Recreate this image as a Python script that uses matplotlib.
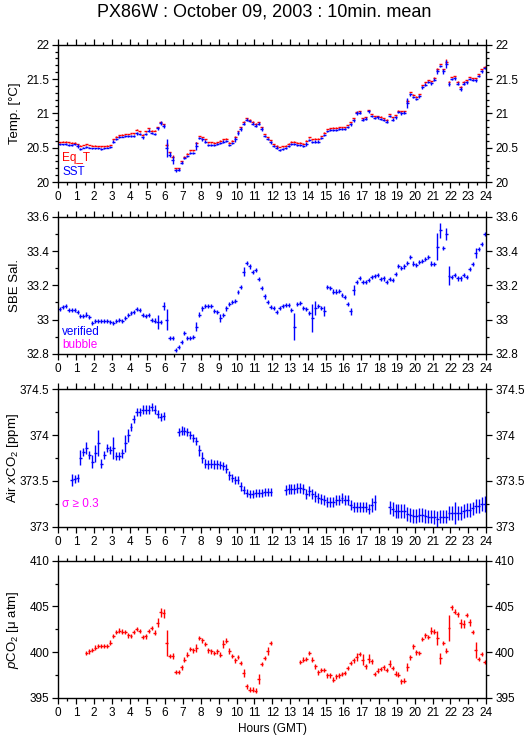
import numpy as np
import matplotlib
matplotlib.use('Agg')
import matplotlib.pyplot as plt
from matplotlib.ticker import MultipleLocator, FormatStrFormatter

plt.rcParams['font.family'] = ['Liberation Sans', 'DejaVu Sans']
plt.rcParams['mathtext.fontset'] = 'custom'
plt.rcParams['mathtext.rm'] = 'Liberation Sans'
plt.rcParams['mathtext.it'] = 'Liberation Sans:italic'
plt.rcParams['mathtext.default'] = 'regular'

nan = np.nan

# 10 minute bins, 144 per day (value per bin, nan = no data)
sst = [
    20.55, 20.55, 20.56, 20.54, 20.54, 20.55, 20.52, 20.48, 20.50, 20.51,
    20.50, 20.49, 20.49, 20.49, 20.48, 20.49, 20.50, 20.51, 20.59, 20.62,
    20.65, 20.66, 20.67, 20.67, 20.67, 20.67, 20.71, 20.70, 20.65, 20.70,
    20.75, 20.71, 20.70, 20.78, 20.86, 20.81, 20.49, 20.40, 20.32, 20.17,
    20.18, 20.28, 20.35, 20.38, 20.42, 20.42, 20.52, 20.64, 20.62, 20.59,
    20.54, 20.54, 20.54, 20.55, 20.57, 20.59, 20.60, 20.54, 20.57, 20.62,
    20.71, 20.77, 20.85, 20.91, 20.89, 20.85, 20.82, 20.85, 20.77, 20.67,
    20.62, 20.58, 20.52, 20.50, 20.47, 20.48, 20.49, 20.53, 20.56, 20.56,
    20.54, 20.54, 20.52, 20.56, 20.61, 20.58, 20.59, 20.59, 20.64, 20.69,
    20.74, 20.76, 20.76, 20.76, 20.77, 20.77, 20.77, 20.80, 20.84, 20.90,
    21.00, 21.01, 20.91, 20.92, 21.03, 20.96, 20.93, 20.94, 20.92, 20.91,
    20.88, 20.96, 20.91, 20.94, 21.02, 21.00, 21.01, 21.15, 21.28, 21.24,
    21.21, 21.25, 21.38, 21.42, 21.45, 21.44, 21.49, 21.61, 21.69, 21.61,
    21.72, 21.43, 21.50, 21.51, 21.43, 21.35, 21.43, 21.45, 21.50, 21.48,
    21.48, 21.54, 21.61, 21.66]

eqt = [
    20.58, 20.59, 20.59, 20.58, 20.57, 20.57, 20.55, 20.53, 20.54, 20.55,
    20.54, 20.53, 20.53, 20.52, 20.52, 20.52, 20.53, 20.54, 20.62, 20.66,
    20.68, 20.69, 20.70, 20.70, 20.71, 20.71, 20.76, 20.74, 20.69, 20.74,
    20.78, 20.75, 20.75, 20.80, 20.87, 20.84, 20.54, 20.43, 20.37, 20.20,
    20.20, 20.30, 20.37, 20.41, 20.46, 20.46, 20.57, 20.67, 20.65, 20.62,
    20.58, 20.58, 20.57, 20.58, 20.60, 20.62, 20.63, 20.57, 20.60, 20.66,
    20.74, 20.80, 20.88, 20.93, 20.91, 20.88, 20.85, 20.87, 20.80, 20.70,
    20.65, 20.61, 20.55, 20.53, 20.51, 20.52, 20.53, 20.56, 20.59, 20.59,
    20.57, 20.57, 20.56, 20.60, 20.65, 20.62, 20.63, 20.63, 20.67, 20.72,
    20.77, 20.78, 20.79, 20.79, 20.80, 20.80, 20.80, 20.83, 20.87, 20.93,
    21.02, 21.03, 20.93, 20.94, 21.05, 20.99, 20.96, 20.96, 20.95, 20.93,
    20.91, 20.99, 20.94, 20.97, 21.04, 21.03, 21.03, 21.18, 21.31, 21.27,
    21.24, 21.28, 21.41, 21.45, 21.48, 21.47, 21.52, 21.64, 21.72, 21.64,
    21.75, 21.46, 21.53, 21.54, 21.46, 21.39, 21.46, 21.48, 21.53, 21.51,
    21.51, 21.57, 21.64, 21.68]

sst_sd = [
    0.01, 0.01, 0.015, 0.01, 0.01, 0.01, 0.03, 0.015, 0.01, 0.01,
    0.01, 0.01, 0.01, 0.01, 0.01, 0.01, 0.01, 0.01, 0.015, 0.015,
    0.015, 0.01, 0.01, 0.01, 0.01, 0.01, 0.02, 0.02, 0.02, 0.015,
    0.02, 0.015, 0.02, 0.02, 0.03, 0.03, 0.13, 0.03, 0.06, 0.02,
    0.02, 0.02, 0.02, 0.02, 0.015, 0.015, 0.06, 0.02, 0.02, 0.015,
    0.01, 0.01, 0.01, 0.015, 0.015, 0.015, 0.015, 0.02, 0.015, 0.03,
    0.03, 0.03, 0.02, 0.02, 0.02, 0.02, 0.02, 0.02, 0.03, 0.02,
    0.015, 0.02, 0.015, 0.02, 0.015, 0.015, 0.015, 0.015, 0.015, 0.015,
    0.015, 0.01, 0.015, 0.03, 0.015, 0.015, 0.015, 0.015, 0.015, 0.015,
    0.01, 0.01, 0.01, 0.01, 0.01, 0.015, 0.015, 0.02, 0.02, 0.02,
    0.03, 0.02, 0.02, 0.02, 0.02, 0.02, 0.015, 0.015, 0.015, 0.015,
    0.025, 0.015, 0.02, 0.02, 0.02, 0.02, 0.02, 0.07, 0.02, 0.02,
    0.02, 0.02, 0.02, 0.02, 0.015, 0.02, 0.02, 0.04, 0.02, 0.03,
    0.06, 0.025, 0.02, 0.02, 0.02, 0.03, 0.02, 0.02, 0.015, 0.015,
    0.02, 0.015, 0.02, 0.015]

sal = [
    33.063, 33.072, 33.077, 33.057, 33.055, 33.055, 33.045, 33.020, 33.020, 33.030,
    33.015, 32.980, 32.990, 32.990, 32.990, 32.990, 32.990, 32.985, 32.980, 32.990,
    33.000, 32.990, 33.010, 33.025, 33.040, 33.045, 33.060, 33.055, 33.025, 33.020,
    33.025, 33.000, 32.995, 32.985, 32.985, 33.080, 33.000, 32.895, 32.895, 32.825,
    32.840, 32.870, 32.920, 32.895, 32.895, 32.900, 32.960, 33.030, 33.065, 33.080,
    33.080, 33.080, 33.050, 33.045, 33.010, 33.025, 33.065, 33.090, 33.105, 33.110,
    33.160, 33.190, 33.280, 33.330, 33.310, 33.280, 33.290, 33.235, 33.185, 33.135,
    33.105, 33.075, 33.067, 33.044, 33.070, 33.080, 33.087, 33.087, 33.057, 32.960,
    33.090, 33.096, 33.067, 33.063, 33.040, 33.010, 33.070, 33.080, 33.070, 33.052,
    33.190, 33.185, 33.164, 33.164, 33.165, 33.145, 33.130, 33.090, 33.050, 33.174,
    33.220, 33.245, 33.218, 33.220, 33.230, 33.247, 33.255, 33.260, 33.236, 33.240,
    33.220, 33.235, 33.230, 33.267, 33.313, 33.300, 33.310, 33.330, 33.363, 33.327,
    33.320, 33.338, 33.344, 33.352, 33.364, 33.327, 33.326, 33.426, 33.520, 33.416,
    33.500, 33.255, 33.250, 33.260, 33.240, 33.240, 33.260, 33.247, 33.294, 33.325,
    33.387, 33.410, 33.440, 33.500]

air = [
    nan, nan, nan, nan, 373.51, 373.52, 373.53, 373.755, 373.82, 373.864,
    373.78, 373.71, 373.80, 373.915, 373.69, 373.78, 373.86, 373.835, 373.864, 373.77,
    373.77, 373.80, 373.91, 374.00, 374.09, 374.18, 374.25, 374.25, 374.28, 374.28,
    374.28, 374.31, 374.28, 374.23, 374.20, 374.21, nan, nan, nan, nan,
    374.035, 374.05, 374.045, 374.035, 374.00, 373.97, 373.94, 373.835, 373.755, 373.69,
    373.68, 373.69, 373.68, 373.68, 373.67, 373.665, 373.635, 373.56, 373.53, 373.51,
    373.51, 373.44, 373.40, 373.37, 373.356, 373.36, 373.365, 373.365, 373.37, 373.38,
    373.375, 373.375, nan, nan, nan, nan, 373.40, 373.41, 373.41, 373.41,
    373.418, 373.418, 373.41, 373.356, 373.39, 373.356, 373.33, 373.31, 373.30, 373.29,
    373.27, 373.27, 373.27, 373.29, 373.29, 373.31, 373.29, 373.29, 373.235, 373.21,
    373.22, 373.21, 373.21, 373.22, 373.19, 373.235, 373.265, nan, nan, nan,
    nan, 373.21, 373.19, 373.175, 373.175, 373.175, 373.175, 373.14, 373.13, 373.12,
    373.12, 373.125, 373.125, 373.12, 373.11, 373.11, 373.105, 373.08, 373.11, 373.11,
    373.11, 373.15, 373.15, 373.15, 373.15, 373.15, 373.175, 373.18, 373.18, 373.20,
    373.225, 373.225, 373.25, 373.25]

pco2 = [
    nan, nan, nan, nan, nan, nan, nan, nan, nan, 399.90,
    400.10, 400.25, 400.50, 400.70, 400.70, 400.70, 400.70, 401.06, 401.79, 402.19,
    402.37, 402.26, 402.19, 401.83, 401.79, 402.19, 402.52, 402.34, 401.65, 401.72,
    402.34, 402.63, 402.15, 403.24, 404.37, 404.26, 400.99, 399.60, 399.60, 397.83,
    397.83, 398.34, 399.18, 399.72, 400.37, 400.19, 400.45, 401.54, 401.28, 400.88,
    400.19, 400.08, 399.90, 400.08, 399.72, 400.92, 401.25, 400.16, 399.60, 399.10,
    399.47, 398.81, 397.72, 396.27, 395.90, 395.90, 395.80, 397.10, 398.70, 399.36,
    400.16, 400.99, nan, nan, nan, nan, nan, nan, nan, nan,
    nan, 398.92, 399.18, 399.28, 399.90, 399.18, 398.45, 397.80, 398.08, 398.08,
    397.47, 397.47, 397.00, 397.36, 397.47, 397.61, 397.72, 398.27, 398.81, 399.10,
    399.47, 399.80, 399.18, 398.45, 399.28, 399.00, 397.61, 397.98, 398.16, 398.34,
    398.08, 398.74, 398.27, 397.65, 397.54, 396.81, 396.89, 398.38, 399.43, 400.63,
    400.00, 399.90, 401.43, 401.83, 401.65, 402.37, 402.26, 401.54, 399.36, 400.99,
    400.16, 402.63, 404.91, 404.44, 404.15, 403.17, 403.10, 404.08, 403.28, 402.19,
    400.26, 399.28, 399.80, 398.92]

# standard deviations: typical value plus the bins with visibly longer bars
eqt_sd = [0.006] * 144
eqt_sd_big = {36: 0.03, 38: 0.02, 117: 0.03, 127: 0.02, 130: 0.035}
sal_sd = [0.012] * 144
sal_sd_big = {33: 0.04, 35: 0.025, 36: 0.06, 46: 0.025, 54: 0.025, 62: 0.025,
              79: 0.08, 85: 0.08, 86: 0.04, 89: 0.03, 98: 0.02, 99: 0.03,
              127: 0.08, 128: 0.045, 130: 0.035, 131: 0.055, 140: 0.03}
air_sd = [0.045] * 72 + [0.055] * 39 + [0.075] * 33
air_sd_big = {4: 0.065, 7: 0.08, 9: 0.065, 11: 0.07, 12: 0.09, 13: 0.145,
              18: 0.12, 22: 0.09, 23: 0.07, 47: 0.06, 48: 0.06, 105: 0.08,
              106: 0.08, 127: 0.09, 133: 0.12, 143: 0.09}
pco2_sd = [0.25] * 144
pco2_sd_big = {33: 0.5, 34: 0.5, 35: 0.5, 36: 1.45, 38: 0.35, 46: 0.45,
               55: 0.45, 57: 0.35, 62: 0.45, 67: 0.55, 70: 0.45, 100: 0.4,
               102: 0.6, 104: 0.5, 111: 0.4, 117: 0.45, 125: 0.4, 127: 0.75,
               128: 0.6, 131: 1.45, 135: 0.5, 136: 0.45, 138: 0.4, 140: 0.9}
for sd, big in [(eqt_sd, eqt_sd_big), (sal_sd, sal_sd_big),
                (air_sd, air_sd_big), (pco2_sd, pco2_sd_big)]:
    for k, v in big.items():
        sd[k] = v

hours = (np.arange(144) + 0.5) / 6.0
half_bin = 5.0 / 60.0

BLUE = '#0000ff'
RED = '#ff0000'
MAGENTA = '#ff00ff'

fig = plt.figure(figsize=(5.29, 7.39), dpi=100)

panels = [
    # bottom, ylim, major, minor, ylabel
    (0.7537, (20, 22), 0.5, 0.1, 'Temp. [°C]'),
    (0.5210, (32.8, 33.6), 0.2, 0.1, 'SBE Sal.'),
    (0.2873, (373, 374.5), 0.5, 0.25, 'Air $\\mathit{x}$CO$_2$ [ppm]'),
    (0.0555, (395, 410), 5, 2.5, '$\\mathit{p}$CO$_2$ [$\\mu$ atm]'),
]

axes = []
for bottom, ylim, major, minor, ylabel in panels:
    ax = fig.add_axes([0.110, bottom, 0.809, 0.1858])
    ax.set_xlim(0, 24)
    ax.set_ylim(*ylim)
    ax.xaxis.set_major_locator(MultipleLocator(1))
    ax.xaxis.set_minor_locator(MultipleLocator(0.5))
    ax.yaxis.set_major_locator(MultipleLocator(major))
    ax.yaxis.set_minor_locator(MultipleLocator(minor))
    ax.yaxis.set_major_formatter(FormatStrFormatter('%g'))
    ax.tick_params(which='both', direction='out', top=True, right=True,
                   labelright=True, width=0.9, labelsize=8.5, pad=2.5)
    ax.tick_params(which='major', length=4)
    ax.tick_params(which='minor', length=2.3)
    for s in ax.spines.values():
        s.set_linewidth(1.0)
    ax.set_ylabel(ylabel, fontsize=9.5)
    ax.yaxis.set_label_coords(-0.087, 0.5)
    axes.append(ax)

ax1, ax2, ax3, ax4 = axes

eb = dict(fmt='none', elinewidth=1.0, capsize=0)

# temperature
ax1.errorbar(hours, eqt, yerr=eqt_sd, xerr=half_bin, ecolor=RED, **eb)
ax1.errorbar(hours, sst, yerr=sst_sd, xerr=half_bin, ecolor=BLUE, **eb)
ax1.text(0.009, 0.175, 'Eq_T', color=RED, fontsize=8.5,
         transform=ax1.transAxes, va='center')
ax1.text(0.009, 0.073, 'SST', color=BLUE, fontsize=8.5,
         transform=ax1.transAxes, va='center')

# salinity
ax2.errorbar(hours, sal, yerr=sal_sd, xerr=half_bin, ecolor=BLUE, **eb)
ax2.text(0.009, 0.16, 'verified', color=BLUE, fontsize=8.5,
         transform=ax2.transAxes, va='center')
ax2.text(0.009, 0.066, 'bubble', color=MAGENTA, fontsize=8.5,
         transform=ax2.transAxes, va='center')

# air xCO2
ax3.errorbar(hours, air, yerr=air_sd, xerr=half_bin, ecolor=BLUE, **eb)
ax3.text(0.009, 0.165, 'σ ≥ 0.3', color=MAGENTA, fontsize=8.5,
         transform=ax3.transAxes, va='center')

# seawater pCO2
ax4.errorbar(hours, pco2, yerr=pco2_sd, xerr=half_bin, ecolor=RED, **eb)
ax4.set_xlabel('Hours (GMT)', fontsize=8.5, labelpad=3)

fig.text(0.5, 0.984, 'PX86W : October 09, 2003 : 10min. mean',
         ha='center', va='center', fontsize=13)

fig.savefig('out.png', dpi=100)
